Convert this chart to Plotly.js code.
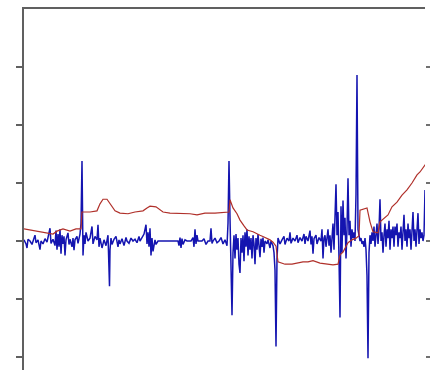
<!DOCTYPE html>
<html><head><meta charset="utf-8">
<script src="https://cdn.plot.ly/plotly-3.0.1.min.js"></script>
<style>html,body{margin:0;padding:0;background:#fff;overflow:hidden}#chart{width:430px;height:370px}</style>
</head><body><div id="chart"></div>
<script>
// sample positions and values
const redX = [0,6,14,21,29,33,39,46,52,57,58,66,73,76,79,83,86,91,96,104,111,119,123,126,132,136,139,146,156,166,173,181,191,201,205,206,209,213,216,220,223,229,233,236,240,243,246,249,252,254,261,268,273,279,284,289,296,303,309,314,316,319,322,324,328,332,335,336,343,346,349,354,356,361,364,368,373,378,383,388,393,396,399,403,406];
const redY = [0.21,0.19,0.16,0.14,0.12,0.17,0.21,0.17,0.21,0.21,0.5,0.5,0.52,0.64,0.72,0.72,0.64,0.52,0.48,0.47,0.5,0.52,0.57,0.6,0.59,0.53,0.5,0.48,0.48,0.47,0.45,0.48,0.48,0.5,0.5,0.71,0.57,0.47,0.36,0.26,0.19,0.16,0.12,0.1,0.07,0.05,0.02,-0.02,-0.09,-0.36,-0.4,-0.4,-0.38,-0.36,-0.36,-0.34,-0.38,-0.4,-0.41,-0.4,-0.24,-0.19,-0.1,-0.03,0.02,0.05,0.09,0.53,0.57,0.33,0.16,0.14,0.33,0.4,0.45,0.59,0.67,0.79,0.88,1.0,1.14,1.19,1.26,1.36,1.43];

const blueX = [0,2,3,4,6,8,10,11,12,14,16,17,19,21,23,25,26,27,29,31,32,33,34,35,36,37,38,39,40,41,42,44,45,46,48,49,50,51,53,54,56,57,58,59,60,61,62,64,66,68,69,71,73,74,75,76,78,80,82,84,85,85.5,86,87,88,90,92,94,95,96,98,100,102,103,105,107,109,111,113,115,116,118,120,122,123,124,125,126,127,128,129,131,132,134,136,138,140,142,154,155,156,157,158,159,161,163,165,167,169,170,171,172,173,174,176,178,180,182,184,186,187,188,189,191,193,195,197,199,201,203,204,205,206,207,208,209,210,211,212,213,214,215,216,217,218,219,220,221,222,223,224,225,226,227,228,229,230,231,232,233,234,235,236,237,238,239,240,241,243,244,246,247,249,250,251,252,253,254,256,258,260,261,263,265,266,267,269,271,273,274,276,278,280,281,282,284,286,287,288,289,290,292,293,295,297,298,299,300,301,302,303,304,305,306,307,308,309,310,311,312,313,314,315,316,317,318,319,320,321,322,323,324,325,326,327,328,329,330,331,332,333,334,335,336,337,338,339,340,341,342,343,344,345,346,347,348,349,350,351,352,353,354,355,356,357,358,359,360,361,362,363,364,365,366,367,368,369,370,371,372,373,374,375,376,377,378,379,380,381,382,383,384,385,386,387,388,389,390,391,392,393,394,395,396,397,398,399,400,401,402,404,405];
const blueY = [0.02,-0.05,-0.12,0.03,0.0,-0.06,0.05,0.1,-0.03,0.02,-0.15,0.0,-0.05,0.04,-0.02,0.15,0.22,-0.04,0.03,-0.08,0.18,-0.15,0.12,-0.1,0.2,-0.22,0.1,-0.05,0.08,-0.25,0.02,0.14,-0.06,0.03,-0.1,0.05,-0.16,0.02,0.08,-0.04,0.12,0.3,1.38,-0.25,0.1,-0.05,0.15,0.0,0.05,0.25,-0.05,0.08,0.02,0.28,-0.1,0.05,-0.12,0.02,-0.08,0.1,-0.3,-0.78,-0.15,0.05,-0.06,0.03,0.08,-0.1,0.02,-0.05,0.04,-0.08,0.06,0.0,-0.04,0.05,0.0,0.03,-0.03,0.08,0.0,0.05,0.12,0.28,-0.05,0.15,-0.1,0.22,-0.25,0.05,-0.18,0.02,-0.06,0.0,0.0,0.0,0.0,0.0,0.0,-0.08,0.06,-0.12,0.04,-0.06,0.02,0.0,0.0,0.0,0.06,-0.1,0.2,-0.05,0.1,0.0,0.0,0.0,0.04,-0.06,0.0,0.0,0.22,-0.04,0.0,0.05,-0.03,0.0,0.06,-0.05,0.02,-0.08,0.3,1.38,0.4,-0.6,-1.28,-0.2,0.1,-0.3,0.12,-0.15,0.05,-0.4,-0.55,0.05,-0.2,0.1,-0.35,0.15,-0.1,0.2,-0.25,0.08,-0.15,0.05,-0.3,0.1,-0.05,-0.4,0.05,-0.15,0.12,-0.08,-0.28,0.04,-0.1,0.06,-0.2,0.0,-0.05,0.02,-0.12,0.0,-0.08,-0.2,-0.5,-1.82,-0.3,0.05,-0.05,0.02,0.08,-0.06,0.05,0.0,0.15,-0.04,0.05,0.0,0.1,-0.03,0.06,0.0,0.12,-0.05,0.08,0.0,0.18,-0.06,0.08,-0.22,0.04,0.1,-0.05,0.06,0.0,0.2,-0.3,0.05,0.1,-0.1,0.04,0.2,-0.08,0.1,-0.2,0.05,0.3,-0.15,0.4,0.98,0.1,0.5,-0.3,-1.32,0.6,-0.2,0.7,0.1,0.4,-0.3,0.2,1.08,0.1,0.35,-0.1,0.2,0.05,0.15,0.0,0.8,2.86,0.2,0.1,0.0,0.05,-0.05,0.0,-0.1,0.05,-0.15,-0.6,-2.02,-0.2,0.1,-0.05,0.15,0.0,0.25,-0.1,0.1,0.3,-0.05,0.2,0.72,0.0,0.15,-0.2,0.1,0.3,-0.1,0.2,0.05,0.35,-0.15,0.2,0.05,0.25,-0.1,0.25,0.1,0.3,-0.1,0.15,0.05,0.25,-0.15,0.2,0.45,0.0,0.2,-0.1,0.3,0.05,0.2,-0.15,0.1,0.5,0.0,0.2,-0.1,0.15,0.48,-0.05,0.2,0.05,0.15,0.0,0.1,0.88,0.05];

const yTicks = [-2,-1,0,1,2,3];

const n = Math.min(blueX.length, blueY.length);
const traces = [
  {x: blueX.slice(0,n), y: blueY.slice(0,n), type:'scatter', mode:'lines',
   line:{color:'#1414b0', width:1.5}, hoverinfo:'skip'},
  {x: redX, y: redY, type:'scatter', mode:'lines',
   line:{color:'#b0302a', width:1.2}, hoverinfo:'skip'},
  {x: [0], y: [0], type:'scatter', mode:'lines', yaxis:'y2', hoverinfo:'skip', showlegend:false, line:{width:0}}
];
const layout = {
  width:430, height:370,
  margin:{l:24, r:5, t:9, b:0},
  paper_bgcolor:'#ffffff', plot_bgcolor:'#ffffff',
  showlegend:false,
  xaxis:{range:[0,401], side:'top', showline:true, linecolor:'#606060', linewidth:2,
         ticks:'', showticklabels:false, showgrid:false, zeroline:false},
  yaxis:{range:[-2.224,4.0], tickvals:yTicks, ticks:'outside', ticklen:6, tickwidth:2, tickcolor:'#606060',
         showticklabels:false, showline:true, linecolor:'#606060', linewidth:2,
         showgrid:false, zeroline:false},
  yaxis2:{range:[-2.224,4.0], overlaying:'y', side:'right', tickvals:yTicks, ticks:'outside',
          ticklen:5, tickwidth:2, tickcolor:'#707070', showticklabels:false, showline:false,
          showgrid:false, zeroline:false}
};
Plotly.newPlot('chart', traces, layout, {staticPlot:true, displayModeBar:false});
</script></body></html>
